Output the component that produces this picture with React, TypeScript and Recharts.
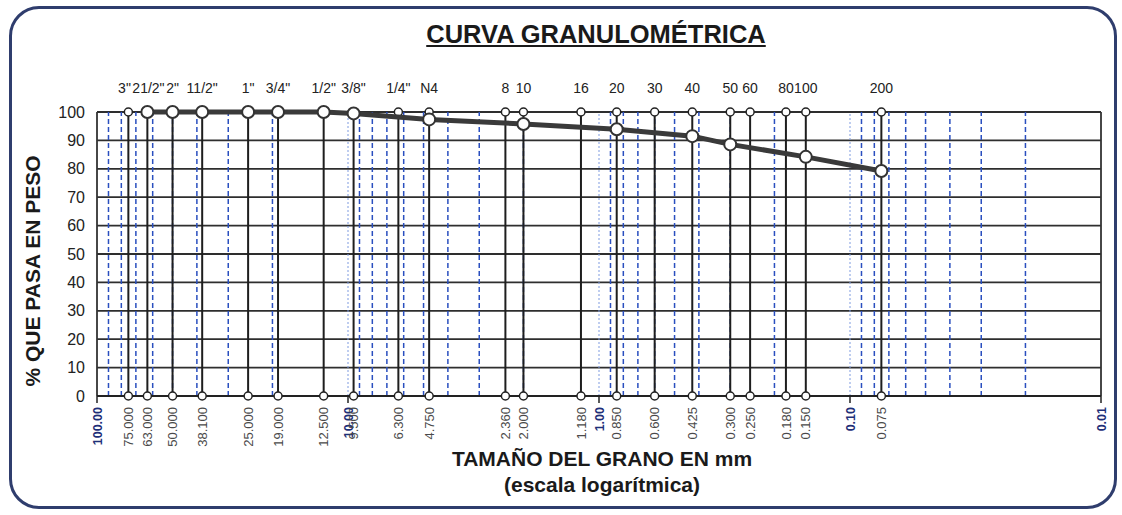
import React from 'react';
import { ComposedChart, XAxis, YAxis, CartesianGrid, ReferenceLine, Scatter } from 'recharts';

const sieveNames = ['3"', '21/2"', '2"', '11/2"', '1"', '3/4"', '1/2"', '3/8"', '1/4"', 'N4', '8', '10', '16', '20', '30', '40', '50', '60', '80', '100', '200'];
const sieveSizes = [75, 63, 50, 38.1, 25, 19, 12.5, 9.5, 6.3, 4.75, 2.36, 2.0, 1.18, 0.85, 0.6, 0.425, 0.3, 0.25, 0.18, 0.15, 0.075];
const sieveLabels = ['75.000', '63.000', '50.000', '38.100', '25.000', '19.000', '12.500', '9.500', '6.300', '4.750', '2.360', '2.000', '1.180', '0.850', '0.600', '0.425', '0.300', '0.250', '0.180', '0.150', '0.075'];

const curveSizes = [63, 50, 38.1, 25, 19, 12.5, 9.5, 4.75, 2.0, 0.85, 0.425, 0.3, 0.15, 0.075];
const curvePassing = [100, 100, 100, 100, 100, 100, 99.5, 97.4, 95.8, 93.9, 91.5, 88.6, 84.2, 79.2];

const decadeValues = [100, 10, 1, 0.1, 0.01];
const decadeLabels = ['100.00', '10.00', '1.00', '0.10', '0.01'];

const blueGrid = [90, 80, 70, 60, 50, 40, 30, 20, 9, 8, 7, 6, 5, 4, 3, 2, 0.9, 0.8, 0.7, 0.6, 0.5, 0.4, 0.3, 0.2, 0.09, 0.08, 0.07, 0.06, 0.05, 0.04, 0.03, 0.02];
const decadeGrid = [10, 1, 0.1];

const yTicks = [0, 10, 20, 30, 40, 50, 60, 70, 80, 90, 100];

const FONT = '"Liberation Sans", Arial, Helvetica, sans-serif';

const curveData = curveSizes.map((s, i) => ({ x: s, y: curvePassing[i] }));
const sieveMarkers = sieveSizes.flatMap((s) => [{ x: s, y: 0 }, { x: s, y: 100 }]);
const bottomTicks = [...decadeValues, ...sieveSizes];

const BottomTick = (props: any) => {
  const { x, payload } = props;
  const v = payload.value;
  const di = decadeValues.indexOf(v);
  const yTop = 407;
  if (di >= 0) {
    return (
      <g>
        <line x1={x} y1={396} x2={x} y2={403} stroke="#222" strokeWidth={1.5} />
        <text x={x} y={yTop} transform={`rotate(-90, ${x}, ${yTop})`} textAnchor="end" dy="0.36em"
          fontFamily={FONT} fontSize={12.5} fontWeight="bold" fill="#1e2f78">{decadeLabels[di]}</text>
      </g>
    );
  }
  const si = sieveSizes.indexOf(v);
  return (
    <text x={x} y={yTop} transform={`rotate(-90, ${x}, ${yTop})`} textAnchor="end" dy="0.36em"
      fontFamily={FONT} fontSize={13} fill="#4a4a4a">{si >= 0 ? sieveLabels[si] : ''}</text>
  );
};

const TopTick = (props: any) => {
  const { x, payload } = props;
  const si = sieveSizes.indexOf(payload.value);
  let anchor: 'middle' | 'end' | 'start' = 'middle';
  let tx = x;
  if (si === 0) { anchor = 'end'; tx = x + 2.5; }
  if (si === 1) { anchor = 'start'; tx = x - 15; }
  return (
    <text x={tx} y={93} textAnchor={anchor} fontFamily={FONT} fontSize={14} fill="#222">
      {si >= 0 ? sieveNames[si] : ''}
    </text>
  );
};

const smallDot = (p: any) => (
  <circle cx={p.cx} cy={p.cy} r={4} fill="#fff" stroke="#222" strokeWidth={1.5} />
);
const bigDot = (p: any) => (
  <circle cx={p.cx} cy={p.cy} r={6} fill="#fff" stroke="#333" strokeWidth={2} />
);

export default function App() {
  return (
    <div style={{ position: 'absolute', left: 0, top: 0, width: 1122, height: 515, background: '#fff', fontFamily: FONT }}>
      <div style={{ position: 'absolute', left: 9, top: 6, width: 1108, height: 503, boxSizing: 'border-box', border: '3px solid #2f3d6d', borderRadius: 30 }} />
      <ComposedChart width={1122} height={515} margin={{ top: 82, right: 21, bottom: 59, left: 0 }}>
        <CartesianGrid xAxisId="b" vertical={false} stroke="#2e2e2e" strokeWidth={1.8} />
        <XAxis xAxisId="b" type="number" dataKey="x" scale="log" domain={[0.01, 100]} reversed allowDataOverflow
          ticks={bottomTicks} interval={0} tick={<BottomTick />} tickLine={false} height={60}
          axisLine={{ stroke: '#222', strokeWidth: 1.8 }} />
        <XAxis xAxisId="t" orientation="top" type="number" dataKey="x" scale="log" domain={[0.01, 100]} reversed allowDataOverflow
          ticks={sieveSizes} interval={0} tick={<TopTick />} tickLine={false} axisLine={false} height={30} />
        <YAxis type="number" dataKey="y" domain={[0, 100]} ticks={yTicks} interval={0} width={97}
          axisLine={false} tickLine={false} tickSize={10} tickMargin={2}
          tick={{ fontSize: 16, fill: '#222', fontFamily: FONT }} />
        {blueGrid.map((g) => (
          <ReferenceLine key={'bg' + g} xAxisId="b" x={g} stroke="#2a4fbf" strokeWidth={1.5} strokeDasharray="5 3" />
        ))}
        {decadeGrid.map((g) => (
          <ReferenceLine key={'dg' + g} xAxisId="b" x={g} stroke="#7f9be0" strokeWidth={1} strokeDasharray="2 2" />
        ))}
        <ReferenceLine xAxisId="b" x={100} stroke="#333" strokeWidth={1.8} />
        <ReferenceLine xAxisId="b" x={0.01} stroke="#333" strokeWidth={1.8} />
        {sieveSizes.map((s) => (
          <ReferenceLine key={'sv' + s} xAxisId="b" x={s} stroke="#1e1e1e" strokeWidth={2} />
        ))}
        <Scatter xAxisId="b" data={sieveMarkers} dataKey="y" shape={smallDot} isAnimationActive={false} />
        <Scatter xAxisId="b" data={curveData} dataKey="y" line={{ stroke: '#3a3a3a', strokeWidth: 5 }} lineType="joint"
          shape={bigDot} isAnimationActive={false} />
      </ComposedChart>
      <div style={{ position: 'absolute', left: 296, top: 22, width: 600, textAlign: 'center', fontSize: 25.5, lineHeight: '25px', fontWeight: 'bold', textDecoration: 'underline', color: '#1a1a1a' }}>
        CURVA GRANULOMÉTRICA
      </div>
      <div style={{ position: 'absolute', left: 302, top: 448, width: 600, textAlign: 'center', fontSize: 21, lineHeight: '21px', fontWeight: 'bold', color: '#1a1a1a' }}>
        TAMAÑO DEL GRANO EN mm
      </div>
      <div style={{ position: 'absolute', left: 302, top: 474, width: 600, textAlign: 'center', fontSize: 21, lineHeight: '21px', fontWeight: 'bold', color: '#1a1a1a' }}>
        (escala logarítmica)
      </div>
      <div style={{ position: 'absolute', left: 33 - 160, top: 271 - 12, width: 320, height: 24, textAlign: 'center', fontSize: 21, lineHeight: '24px', fontWeight: 'bold', color: '#1a1a1a', transform: 'rotate(-90deg)' }}>
        % QUE PASA EN PESO
      </div>
    </div>
  );
}
